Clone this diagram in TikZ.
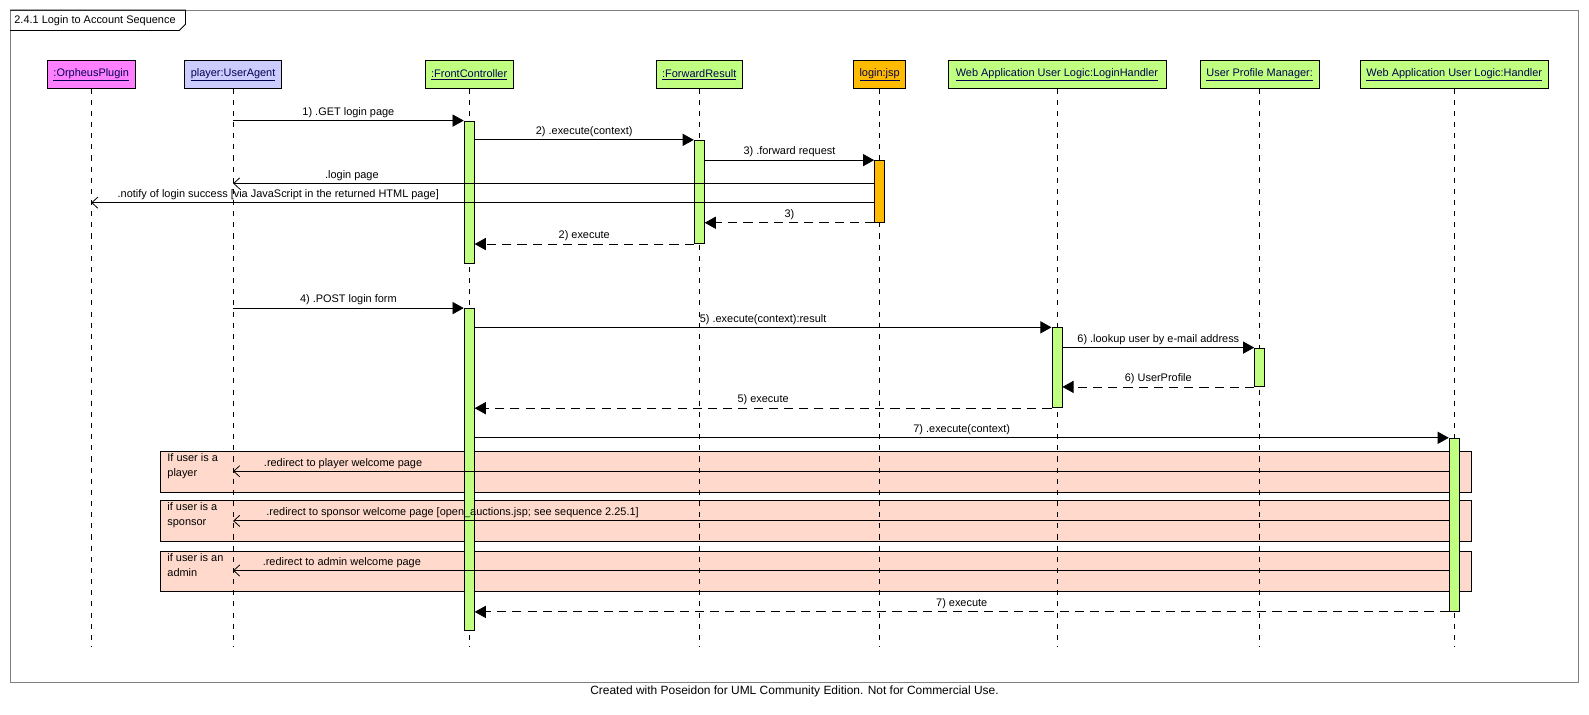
\documentclass[tikz,border=0pt]{standalone}
\usepackage{fontspec}
\setmainfont{Liberation Sans}
\usetikzlibrary{arrows.meta, positioning, calc}
\definecolor{PluginPink}{RGB}{255,128,255}
\definecolor{AgentBlue}{RGB}{204,204,255}
\definecolor{LogicGreen}{RGB}{192,255,128}
\definecolor{JspOrange}{RGB}{255,187,0}
\definecolor{AltSalmon}{RGB}{255,218,204}
\definecolor{FrameGrey}{RGB}{128,128,128}
\definecolor{HeadText}{RGB}{0,0,80}

\begin{document}
\begin{tikzpicture}[x=1pt, y=-1pt, font=\fontsize{10.8}{13}\selectfont,
    head/.style={draw, line width=0.8pt, fill=LogicGreen, minimum height=27pt, inner xsep=6pt, text=HeadText},
    lifeline/.style={line width=0.8pt, dash pattern=on 5pt off 6pt},
    act/.style={draw, line width=0.8pt, fill=LogicGreen, minimum width=10pt, inner sep=0pt, anchor=north},
    call/.style={line width=0.8pt, -{Triangle[length=11pt,width=12pt]}},
    reply/.style={line width=0.8pt, dash pattern=on 9pt off 6pt, -{Triangle[length=11pt,width=12pt]}},
    signal/.style={line width=0.8pt, -{Straight Barb[length=6pt,width=11pt]}},
    altbox/.style={draw, line width=0.8pt, fill=AltSalmon},
    msg/.style={above, inner sep=2.5pt},
    lmsg/.style={above right, inner sep=2.5pt}]
  \useasboundingbox (0,0) rectangle (1568,705);

  % frame and title tab
  \draw[FrameGrey, line width=0.8pt] (10,10) rectangle (1558,673);
  \draw[line width=0.8pt] (10,10) -- (183,10) -- (183,24) -- (177,30) -- (10,30);
  \node[anchor=west, inner sep=0pt] (title) at (14,20) {2.4.1 Login to Account Sequence};

  % alternatives
  \draw[altbox] (158,445) rectangle (1452,486);
  \draw[altbox] (158,494) rectangle (1452,534);
  \draw[altbox] (158,544) rectangle (1452,584);
  \node[anchor=north west, align=left, inner sep=0pt, font=\fontsize{10.8}{15}\selectfont] (altA) at (165,447) {If user is a\\player};
  \node[anchor=north west, align=left, inner sep=0pt, font=\fontsize{10.8}{15}\selectfont] (altB) at (165,496) {if user is a\\sponsor};
  \node[anchor=north west, align=left, inner sep=0pt, font=\fontsize{10.8}{15}\selectfont] (altC) at (165,546) {if user is an\\admin};

  % lifeline heads
  \node[head, fill=PluginPink] (orph) at (90,73.5) {\underline{:OrpheusPlugin}};
  \node[head, fill=AgentBlue] (ua) at (230,73.5) {\underline{player:UserAgent}};
  \node[head] (fc) at (463,73.5) {\underline{:FrontController}};
  \node[head] (fr) at (690,73.5) {\underline{:ForwardResult}};
  \node[head, fill=JspOrange] (jsp) at (868,73.5) {\underline{login:jsp}};
  \node[head, minimum width=215pt] (lh) at (1043,73.5) {\underline{Web Application User Logic:LoginHandler}};
  \node[head] (upm) at (1243,73.5) {\underline{User Profile Manager:}};
  \node[head] (hd) at (1435,73.5) {\underline{Web Application User Logic:Handler}};

  \foreach \n in {orph, ua, fc, fr, jsp, lh, upm, hd}
    \draw[lifeline] (\n.south) -- (\n.south |- 0,638);

  % activations
  \node[act, minimum height=141pt] (fcA) at (463,119) {};
  \node[act, minimum height=102pt] (frA) at (690,138) {};
  \node[act, fill=JspOrange, minimum height=61pt] (jspA) at (868,158) {};
  \node[act, minimum height=318pt] (fcB) at (463,304) {};
  \node[act, minimum height=79pt] (lhA) at (1043,323) {};
  \node[act, minimum height=38pt] (upmA) at (1243,343) {};
  \node[act, minimum height=171pt] (hdA) at (1435,432) {};

  % messages
  \draw[call] (ua |- fcA.north) -- (fcA.north west) node[msg, midway] {1) .GET login page};
  \draw[call] (fcA.east |- frA.north) -- (frA.north west) node[msg, midway] {2) .execute(context)};
  \draw[call] (frA.east |- jspA.north) -- (jspA.north west) node[msg, midway] {3) .forward request};
  \draw[signal] (jspA.west |- 0,181) -- (ua |- 0,181) node[lmsg, pos=0.861] {.login page};
  \draw[signal] (jspA.west |- 0,200) -- (orph |- 0,200) node[lmsg, pos=0.970] {.notify of login success [via JavaScript in the returned HTML page]};
  \draw[reply] (jspA.south west) -- (frA.east |- jspA.south) node[msg, midway] {3)};
  \draw[reply] (frA.south west) -- (fcA.east |- frA.south) node[msg, midway] {2) execute};

  \draw[call] (ua |- fcB.north) -- (fcB.north west) node[msg, midway] {4) .POST login form};
  \draw[call] (fcB.east |- lhA.north) -- (lhA.north west) node[msg, midway] {5) .execute(context):result};
  \draw[call] (lhA.east |- upmA.north) -- (upmA.north west) node[msg, midway] {6) .lookup user by e-mail address};
  \draw[reply] (upmA.south west) -- (lhA.east |- upmA.south) node[msg, midway] {6) UserProfile};
  \draw[reply] (lhA.south west) -- (fcB.east |- lhA.south) node[msg, midway] {5) execute};
  \draw[call] (fcB.east |- hdA.north) -- (hdA.north west) node[msg, midway] {7) .execute(context)};
  \draw[signal] (hdA.west |- 0,465) -- (ua |- 0,465) node[lmsg, pos=0.977] {.redirect to player welcome page};
  \draw[signal] (hdA.west |- 0,514) -- (ua |- 0,514) node[lmsg, pos=0.975] {.redirect to sponsor welcome page [open\_auctions.jsp; see sequence 2.25.1]};
  \draw[signal] (hdA.west |- 0,563) -- (ua |- 0,563) node[lmsg, pos=0.978] {.redirect to admin welcome page};
  \draw[reply] (hdA.south west) -- (fcB.east |- hdA.south) node[msg, midway] {7) execute};

  \node[font=\fontsize{11.8}{14}\selectfont] (credit) at (784,682) {Created with Poseidon for UML Community Edition. Not for Commercial Use.};
\end{tikzpicture}
\end{document}
